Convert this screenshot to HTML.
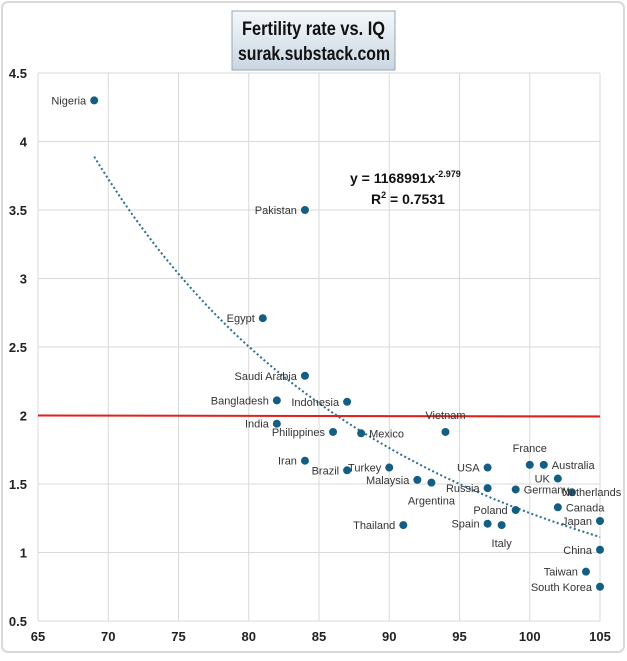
<!DOCTYPE html>
<html><head><meta charset="utf-8">
<style>
body{margin:0;background:#fff;font-family:"Liberation Sans Narrow","Liberation Sans",sans-serif;}
#wrap{position:relative;width:627px;height:656px;}
</style></head>
<body>
<div id="wrap">
<svg id="chart" width="627" height="656"></svg>
</div>
<script>
const countries=["Nigeria","Pakistan","Egypt","Saudi Arabia","Bangladesh","Indonesia","India","Philippines","Mexico","Vietnam","Iran","Brazil","Turkey","Malaysia","Argentina","USA","Russia","Germany","France","Australia","UK","Netherlands","Canada","Poland","Spain","Italy","Thailand","Japan","China","Taiwan","South Korea"];
const iq=[69,84,81,84,82,87,82,86,88,94,84,87,90,92,93,97,97,99,100,101,102,103,102,99,97,98,91,105,105,104,105];
const fertility=[4.3,3.5,2.71,2.29,2.11,2.1,1.94,1.88,1.87,1.88,1.67,1.6,1.62,1.53,1.51,1.62,1.47,1.46,1.64,1.64,1.54,1.44,1.33,1.31,1.21,1.2,1.2,1.23,1.02,0.86,0.75];
const xTicks=[65,70,75,80,85,90,95,100,105];
const yTicks=[0.5,1,1.5,2,2.5,3,3.5,4,4.5];
const trendA=1168991, trendB=-2.979;
const replacementRate=2;
const labelPos={"Mexico":"r","Vietnam":"t","France":"t","Australia":"r","Netherlands":"r","Canada":"r","Argentina":"b","Italy":"b","Germany":"r"};

const svg=document.getElementById('chart');
const NS='http://www.w3.org/2000/svg';
const X0=38,X1=600,Y0=621,Y1=73;
const xs=v=>X0+(v-65)/40*(X1-X0);
const ys=v=>Y0-(v-0.5)/4*(Y0-Y1);
function el(t,a,p){const e=document.createElementNS(NS,t);for(const k in a)e.setAttribute(k,a[k]);(p||svg).appendChild(e);return e;}

const frame=el('rect',{x:2,y:2,width:622,height:650,rx:6,fill:'#fff',stroke:'#d9d9d9','stroke-width':2});



const defs=el('defs',{});
const g=el('linearGradient',{id:'tg',x1:0,y1:0,x2:0,y2:1},defs);
el('stop',{offset:0,'stop-color':'#f4f8fb'},g);el('stop',{offset:1,'stop-color':'#c9d6e2'},g);
const tb=el('rect',{x:232,y:11,width:163,height:59,fill:'url(#tg)',stroke:'#9aa6b2','stroke-width':1});


const t1=el('text',{x:242,y:35,'font-size':19,'font-weight':'bold',fill:'#111',textLength:143,lengthAdjust:'spacingAndGlyphs'});t1.textContent='Fertility rate vs. IQ';


const t2=el('text',{x:238,y:60,'font-size':19,'font-weight':'bold',fill:'#111',textLength:152,lengthAdjust:'spacingAndGlyphs'});t2.textContent='surak.substack.com';



xTicks.forEach(v=>{
  const l=el('line',{x1:xs(v),x2:xs(v),y1:Y1,y2:Y0,stroke:'#d9d9d9','stroke-width':1});
  
  
  const t=el('text',{x:xs(v),y:641,'text-anchor':'middle','font-size':13,'font-weight':'bold',fill:'#222'});t.textContent=v;
  
  
});
yTicks.forEach(v=>{
  const l=el('line',{x1:X0,x2:X1,y1:ys(v),y2:ys(v),stroke:'#d9d9d9','stroke-width':1});
  
  
  const t=el('text',{x:27,y:ys(v)+5,'text-anchor':'end','font-size':13,'font-weight':'bold',fill:'#222'});t.textContent=v;
  
  
});

const rl=el('line',{x1:X0,x2:X1,y1:ys(replacementRate),y2:ys(replacementRate)+1,stroke:'#e0201b','stroke-width':2});



let d='';
for(let v=69;v<=105.001;v+=0.5){const y=trendA*Math.pow(v,trendB);d+=(d?'L':'M')+xs(v).toFixed(1)+','+ys(y).toFixed(1);}
const tr=el('path',{d:d,fill:'none',stroke:'#2a6f8f','stroke-width':2,'stroke-dasharray':'2 2.5'});



const eq=el('text',{x:350,y:183,'font-size':14,'font-weight':'bold',fill:'#111'});
eq.innerHTML='y = 1168991x<tspan dy="-6" font-size="9">-2.979</tspan>';


const r2=el('text',{x:371,y:204,'font-size':14,'font-weight':'bold',fill:'#111'});
r2.innerHTML='R<tspan dy="-6" font-size="9">2</tspan><tspan dy="6"> = 0.7531</tspan>';



countries.forEach((c,i)=>{
  const px=xs(iq[i]),py=ys(fertility[i]);
  const pt=el('circle',{cx:px,cy:py,r:4,fill:'#135e82'});
  
  
  const p=labelPos[c]||'l';
  let a={x:px-8,y:py+4,'text-anchor':'end'};
  if(p==='r')a={x:px+8,y:py+4,'text-anchor':'start'};
  if(p==='t')a={x:px,y:py-13,'text-anchor':'middle'};
  if(p==='b')a={x:px,y:py+22,'text-anchor':'middle'};
  if(c==='Netherlands')a.x=px-10;
  a['font-size']=11;a.fill='#333';
  const t=el('text',a);t.textContent=c;
  
  
});
</script>
</body></html>
